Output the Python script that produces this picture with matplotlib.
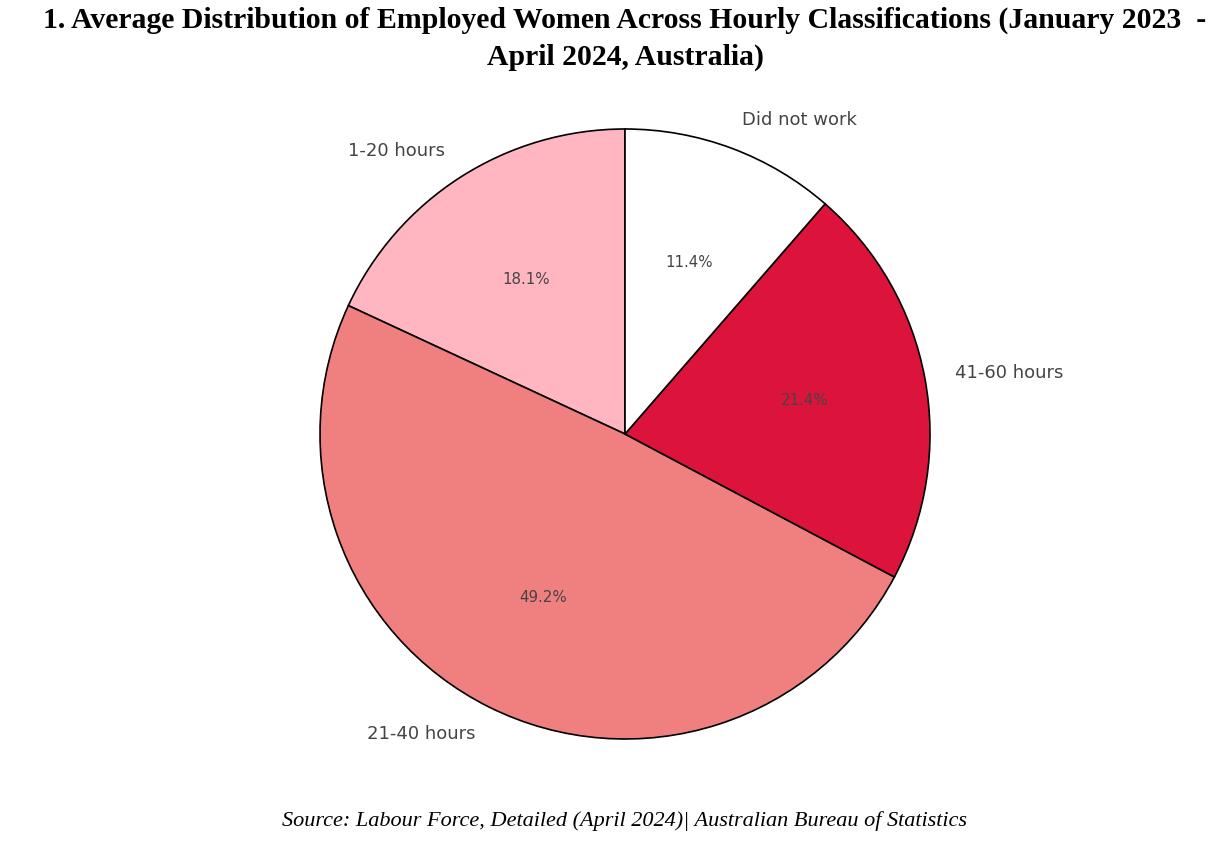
import matplotlib
matplotlib.use("Agg")
import matplotlib.pyplot as plt

categories = ['1-20 hours', '21-40 hours', '41-60 hours', 'Did not work']
shares = [18.1, 49.2, 21.4, 11.4]
colors = ['#FFB6C1', '#F08080', '#DC143C', '#FFFFFF']

title = "1. Average Distribution of Employed Women Across Hourly Classifications (January 2023  -\nApril 2024, Australia)"
source = "Source: Labour Force, Detailed (April 2024)| Australian Bureau of Statistics"

W, H = 1228, 868
fig = plt.figure(figsize=(W/100, H/100), dpi=100)
cx, cy, r = 625, 434, 305
ax = fig.add_axes([(cx - r)/W, (H - cy - r)/H, 2*r/W, 2*r/H])
wedges, texts, autotexts = ax.pie(
    shares, labels=categories, colors=colors, autopct='%1.1f%%',
    startangle=90, counterclock=True,
    wedgeprops=dict(edgecolor='black', linewidth=1.2),
    textprops=dict(color='#444444', fontsize=13, family='DejaVu Sans'))
for t in autotexts:
    t.set_fontsize(10.8)
ax.set_aspect('equal')
ax.set_xlim(-1, 1)
ax.set_ylim(-1, 1)

fig.text(625/W, 1 - 39/H, title, ha='center', va='center', fontsize=21.4,
         fontweight='bold', family='Liberation Serif', linespacing=1.45)
fig.text(625/W, 1 - 821/H, source, ha='center', va='center', fontsize=16,
         style='italic', family='Liberation Serif')

fig.savefig('out.png', dpi=100, facecolor='white')
